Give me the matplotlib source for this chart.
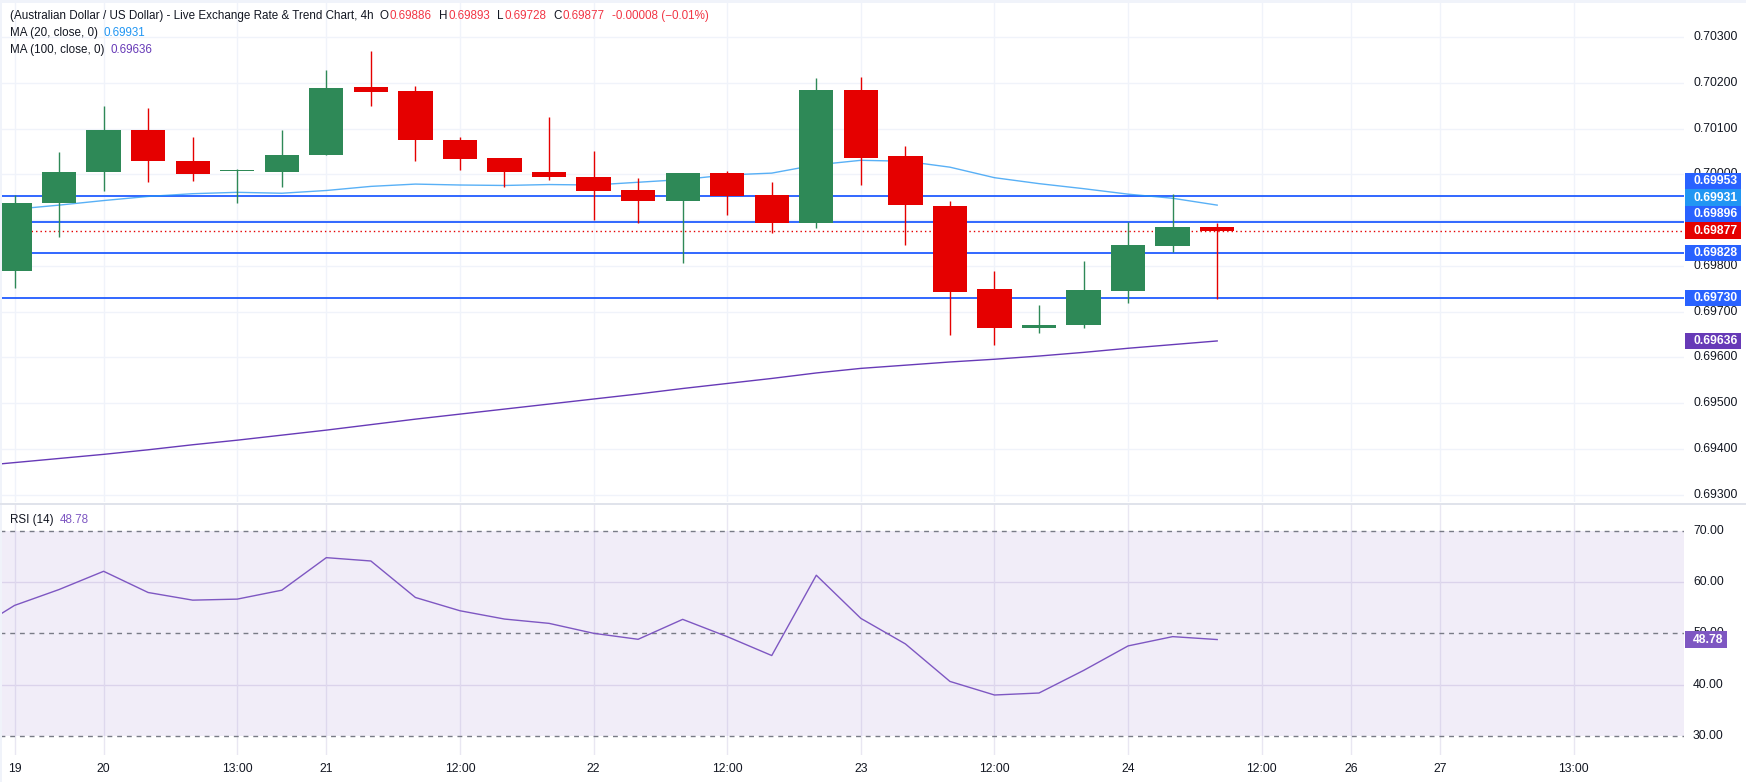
import matplotlib
matplotlib.use("Agg")
import matplotlib.pyplot as plt
from matplotlib.patches import Rectangle
from matplotlib.transforms import blended_transform_factory
import numpy as np

# ---------------- data ----------------
candle_idx = list(range(28))
opens  = [0.69790, 0.69938, 0.70005, 0.70098, 0.70030, 0.70007, 0.70005, 0.70042, 0.70192, 0.70183,
          0.70076, 0.70035, 0.70005, 0.69995, 0.69965, 0.69943, 0.70004, 0.69956, 0.69895, 0.70185,
          0.70041, 0.69932, 0.69750, 0.69665, 0.69671, 0.69746, 0.69844, 0.69886]
highs  = [0.69956, 0.70050, 0.70150, 0.70146, 0.70083, 0.70013, 0.70098, 0.70229, 0.70271, 0.70194,
          0.70083, 0.70037, 0.70126, 0.70052, 0.69993, 0.70004, 0.70008, 0.69984, 0.70210, 0.70214,
          0.70063, 0.69943, 0.69789, 0.69715, 0.69811, 0.69897, 0.69957, 0.69893]
lows   = [0.69751, 0.69863, 0.69963, 0.69983, 0.69985, 0.69937, 0.69972, 0.70042, 0.70149, 0.70029,
          0.70009, 0.69972, 0.69987, 0.69901, 0.69893, 0.69806, 0.69911, 0.69871, 0.69884, 0.69976,
          0.69845, 0.69649, 0.69628, 0.69654, 0.69665, 0.69718, 0.69830, 0.69728]
closes = [0.69938, 0.70006, 0.70098, 0.70029, 0.70000, 0.70009, 0.70043, 0.70190, 0.70180, 0.70075,
          0.70033, 0.70005, 0.69994, 0.69963, 0.69943, 0.70004, 0.69954, 0.69895, 0.70185, 0.70037,
          0.69933, 0.69744, 0.69665, 0.69671, 0.69747, 0.69846, 0.69885, 0.69877]

ma_idx = list(range(-1, 28))
ma20  = [0.69915, 0.69924, 0.69933, 0.69943, 0.69952, 0.69958, 0.69961, 0.69959, 0.69965, 0.69974,
         0.69979, 0.69977, 0.69976, 0.69978, 0.69977, 0.69983, 0.69989, 0.69999, 0.70003, 0.70021,
         0.70031, 0.70029, 0.70016, 0.69993, 0.69980, 0.69969, 0.69957, 0.69948, 0.69933]
ma100 = [0.69361, 0.69370, 0.69379, 0.69388, 0.69398, 0.69409, 0.69419, 0.69430, 0.69441, 0.69453,
         0.69465, 0.69476, 0.69487, 0.69498, 0.69509, 0.69520, 0.69532, 0.69543, 0.69554, 0.69566,
         0.69576, 0.69583, 0.69590, 0.69596, 0.69603, 0.69611, 0.69620, 0.69628, 0.69636]
rsi   = [50.05, 55.44, 58.54, 62.10, 57.96, 56.47, 56.67, 58.41, 64.76, 64.11,
         56.99, 54.40, 52.78, 51.94, 50.00, 48.83, 52.72, 49.35, 45.66, 61.33,
         52.91, 47.93, 40.61, 37.96, 38.35, 42.75, 47.54, 49.35, 48.78]

levels = [0.69953, 0.69896, 0.69828, 0.69730]
last_price = 0.69877
ma20_last = 0.69931
ma100_last = 0.69636
rsi_last = 48.78

time_tick_pos = [0, 2, 5, 7, 10, 13, 16, 19, 22, 25, 28, 30, 32, 35]
time_tick_lab = ["19", "20", "13:00", "21", "12:00", "22", "12:00", "23", "12:00", "24",
                 "12:00", "26", "27", "13:00"]
price_ticks = [0.693, 0.694, 0.695, 0.696, 0.697, 0.698, 0.699, 0.700, 0.701, 0.702, 0.703]
rsi_ticks = [30, 40, 50, 60, 70]

# ---------------- style ----------------
plt.rcParams['font.family'] = ['Liberation Sans', 'DejaVu Sans']
W, H = 1746, 782
TXT = '#131722'
GRID = '#F0F3FA'
UP = '#2E8957'
DN = '#E50000'
BLUE = '#2962FF'
FS = 8.4

fig = plt.figure(figsize=(W / 100, H / 100), dpi=100)
fig.patch.set_facecolor('white')

def fax(x0, y0, x1, y1):
    return fig.add_axes([x0 / W, 1 - y1 / H, (x1 - x0) / W, (y1 - y0) / H])

PX_PER_UNIT = 45730.0
def price_at(py):
    return 0.703 - (py - 37.3) / PX_PER_UNIT

ax = fax(0, 3, 1684, 502)
axr = fax(0, 505, 1684, 755)
for a in (ax, axr):
    a.set_facecolor('none')
    for s in a.spines.values():
        s.set_visible(False)
    a.set_xticks([])
    a.set_yticks([])
    a.set_xlim(-0.326, 37.48)

ax.set_ylim(price_at(502), price_at(3))
axr.set_ylim(50 - (755 - 633.3) / 5.125, 50 + (633.3 - 505) / 5.125)

# grid
for p in price_ticks:
    ax.axhline(p, color=GRID, lw=1.0, zorder=0.5)
for v in [40, 60]:
    axr.axhline(v, color='#E6E2F0', lw=1.0, zorder=0.5)
for k in time_tick_pos:
    ax.axvline(k, color=GRID, lw=1.0, zorder=0.5)
    axr.axvline(k, color='#E9E7F2', lw=1.0, zorder=0.5)

# price panel lines
for lv in levels:
    ax.axhline(lv, color=BLUE, lw=1.35, zorder=2)
ax.axhline(last_price, color=DN, lw=1.0, ls=(0, (1, 2.2)), zorder=2)
ax.plot(ma_idx, ma100, color='#673AB7', lw=1.0, zorder=3)
ax.plot(ma_idx, ma20, color='#2196F3', lw=1.0, alpha=0.75, zorder=3)

# candles
o = np.array(opens); c = np.array(closes); h = np.array(highs); l = np.array(lows)
cols = [UP if cc >= oo else DN for oo, cc in zip(o, c)]
ax.vlines(candle_idx, l, h, colors=cols, lw=1.0, zorder=4)
ax.bar(candle_idx, np.abs(c - o), bottom=np.minimum(o, c), width=0.77, color=cols,
       linewidth=0, zorder=5)

# RSI panel
axr.axhspan(30, 70, color='#7E57C2', alpha=0.1, lw=0, zorder=1)
for v in [70, 50, 30]:
    axr.axhline(v, color='#787B86', lw=1.0, ls=(0, (3.5, 3.5)), zorder=2)
axr.plot(ma_idx, rsi, color='#7E57C2', lw=1.0, zorder=3)

# separators / frame
fig.add_artist(Rectangle((0, 1 - 3 / H), 1, 3 / H, transform=fig.transFigure,
                         color='#F0F3FA', lw=0))
fig.add_artist(Rectangle((0, 0), 2 / W, 1, transform=fig.transFigure,
                         color='#F0F3FA', lw=0))
fig.add_artist(Rectangle((0, 1 - 504.5 / H), 1, 2 / H, transform=fig.transFigure,
                         color='#E0E3EB', lw=0))

# time axis labels
trans = blended_transform_factory(axr.transData, fig.transFigure)
for k, lab in zip(time_tick_pos, time_tick_lab):
    axr.text(k, 1 - 769 / H, lab, transform=trans, ha='center', va='center',
             fontsize=FS + 0.3, color=TXT, clip_on=False)

# right price axis
axp = fax(1684, 3, 1746, 502)
axp.set_xlim(1684, 1746)
axp.set_ylim(ax.get_ylim())
axp.axis('off')

box_h = 16.5 / PX_PER_UNIT
boxes = []  # (center, text, color)
boxes.append((last_price, f"{last_price:.5f}", DN))
stack = [(levels[1], BLUE), (ma20_last, '#2196F3'), (levels[0], BLUE)]
ypos = last_price
for val, col in stack:
    ypos = ypos + box_h
    boxes.append((ypos, f"{val:.5f}", col))
boxes.append((levels[2], f"{levels[2]:.5f}", BLUE))
boxes.append((levels[3], f"{levels[3]:.5f}", BLUE))
boxes.append((ma100_last, f"{ma100_last:.5f}", '#673AB7'))

def covered(p):
    half = 5.0 / PX_PER_UNIT
    lo, hi = p - half, p + half
    segs = sorted((b - box_h / 2, b + box_h / 2) for b, _, _ in boxes)
    cur = lo
    for a0, a1 in segs:
        if a0 <= cur + 1e-9 and a1 > cur:
            cur = a1
    return cur >= hi

for p in price_ticks:
    if covered(p):
        continue
    axp.text(1693, p, f"{p:.5f}", ha='left', va='center', fontsize=FS + 0.3, color=TXT, zorder=1)

for yb, txt, col in boxes:
    axp.add_patch(Rectangle((1685, yb - box_h / 2), 56, box_h, color=col, lw=0, zorder=5))
    axp.text(1693, yb, txt, ha='left', va='center', fontsize=FS + 0.3, color='white',
             fontweight='bold', zorder=6)

# right RSI axis
axq = fax(1684, 505, 1746, 755)
axq.set_xlim(1684, 1746)
axq.set_ylim(axr.get_ylim())
axq.axis('off')
for v in rsi_ticks:
    axq.text(1693, v, f"{v:.2f}", ha='left', va='center', fontsize=FS + 0.3, color=TXT, zorder=1)
rh = 16.5 / 5.125
axq.add_patch(Rectangle((1685, rsi_last - rh / 2), 42, rh, color='#7E57C2', lw=0, zorder=5))
axq.text(1693, rsi_last, f"{rsi_last:.2f}", ha='left', va='center', fontsize=FS + 0.3,
         color='white', fontweight='bold', zorder=6)

# legends (text runs)
renderer = fig.canvas.get_renderer()
def runs(x, y, parts):
    for s, col, gap in parts:
        t = fig.text(x / W, 1 - y / H, s, color=col, fontsize=FS, ha='left', va='center')
        bb = t.get_window_extent(renderer)
        x += bb.width + gap

RED_T = '#F23645'
runs(10, 16, [("(Australian Dollar / US Dollar) - Live Exchange Rate & Trend Chart, 4h", TXT, 6),
              ("O", TXT, 1), (f"{opens[-1]:.5f}", RED_T, 7),
              ("H", TXT, 1), (f"{highs[-1]:.5f}", RED_T, 7),
              ("L", TXT, 1), (f"{lows[-1]:.5f}", RED_T, 7),
              ("C", TXT, 1), (f"{closes[-1]:.5f}", RED_T, 7),
              ("-0.00008 (\u22120.01%)", RED_T, 0)])
runs(10, 33, [("MA (20, close, 0)", TXT, 6), (f"{ma20_last:.5f}", '#2196F3', 0)])
runs(10, 50, [("MA (100, close, 0)", TXT, 6), (f"{ma100_last:.5f}", '#673AB7', 0)])
runs(10, 520, [("RSI (14)", TXT, 6), (f"{rsi_last:.2f}", '#7E57C2', 0)])

fig.savefig('out.png', dpi=100)
